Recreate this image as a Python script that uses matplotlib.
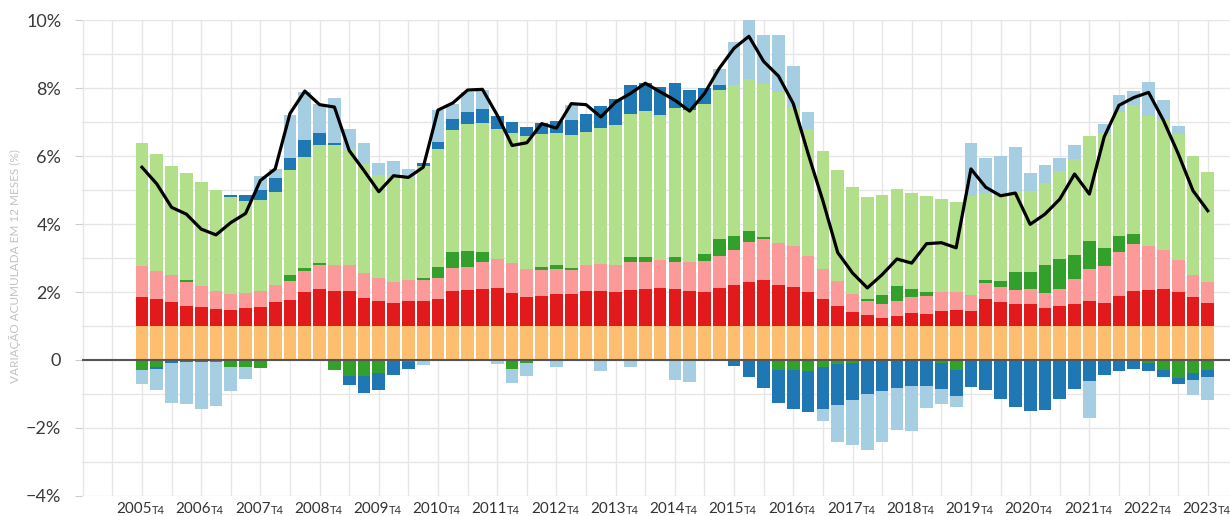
import matplotlib
matplotlib.use("Agg")
import matplotlib.pyplot as plt
import numpy as np

# ---------------- data (quarterly, 2005T4 .. 2023T4) ----------------
years = list(range(2005, 2024))
quarter_suffix = "T4"

orange = [1.0] * 73
red = [.84, .78, .71, .60, .56, .51, .48, .53, .57, .71,
       .77, 1.0, 1.10, 1.04, 1.04, .82, .75, .68, .75, .75,
       .79, 1.02, 1.06, 1.10, 1.12, .97, .85, .89, .95, .94,
       1.04, 1.04, .99, 1.06, 1.09, 1.12, 1.10, 1.04, 1.0, 1.12,
       1.20, 1.29, 1.34, 1.22, 1.16, 1.0, .79, .58, .41, .31,
       .25, .30, .38, .36, .45, .46, .43, .78, .70, .65,
       .66, .53, .58, .65, .75, .67, .89, 1.04, 1.07, 1.10,
       1.0, .84, .68]
pink = [.92, .85, .78, .69, .61, .52, .46, .43, .46, .50,
        .56, .63, .69, .75, .75, .74, .67, .61, .59, .60,
        .61, .69, .69, .77, .84, .87, .84, .76, .73, .70,
        .74, .77, .80, .82, .79, .81, .79, .84, .91, .95,
        1.04, 1.18, 1.22, 1.23, 1.19, 1.06, .88, .74, .54, .44,
        .40, .43, .47, .51, .55, .53, .47, .49, .45, .42,
        .43, .44, .51, .72, .94, 1.09, 1.29, 1.36, 1.28, 1.14,
        .93, .67, .61]
dark_green = [-.28, -.20, 0, .07, 0, -.05, -.20, -.20, -.23, 0,
              .17, .08, .07, -.28, -.46, -.46, -.37, 0, -.05, .07,
              .34, .46, .47, .31, 0, -.27, -.10, .10, .11, .06,
              0, 0, -.04, .15, .15, -.04, .14, 0, .20, .48,
              .42, .33, .07, -.28, -.28, -.33, -.21, -.11, -.08, .04,
              .27, .46, .24, .12, -.08, -.30, 0, .08, .16, .52,
              .50, .82, .87, .72, .81, .54, .47, .30, -.10, -.30,
              -.52, -.39, -.28]
light_green = [3.63, 3.44, 3.22, 3.13, 3.06, 2.97, 2.84, 2.71, 2.69, 2.74,
               3.09, 3.26, 3.45, 3.52, 3.42, 3.21, 3.03, 3.13, 3.02, 3.30,
               3.47, 3.59, 3.71, 3.80, 3.84, 3.85, 3.89, 3.91, 3.89, 3.93,
               3.93, 4.01, 4.11, 4.22, 4.28, 4.29, 4.37, 4.47, 4.43, 4.39,
               4.43, 4.46, 4.48, 4.42, 4.10, 3.74, 3.49, 3.27, 3.13, 3.01,
               2.93, 2.84, 2.81, 2.82, 2.73, 2.67, 2.93, 2.55, 2.52, 2.39,
               2.39, 2.42, 2.61, 2.83, 3.09, 3.38, 3.63, 3.81, 3.83, 3.86,
               3.73, 3.48, 3.25]
dark_blue = [0, -.07, -.10, -.07, -.05, 0, .07, .17, .29, .41,
             .36, .49, .38, .08, -.27, -.51, -.50, -.43, -.20, .07,
             .20, .34, .37, .39, .38, .30, .27, .31, .35, .44,
             .54, .66, .77, .84, .85, .80, .74, .59, .45, .15,
             -.17, -.49, -.81, -.98, -1.15, -1.21, -1.22, -1.21, -1.10, -1.0,
             -.91, -.82, -.77, -.77, -.76, -.77, -.79, -.87, -1.16, -1.38,
             -1.51, -1.46, -1.15, -.84, -.61, -.44, -.32, -.25, -.22, -.19,
             -.20, -.20, -.21]
light_blue = [-.44, -.62, -1.15, -1.21, -1.40, -1.30, -.72, -.37, .41, .26,
              1.27, 1.43, .85, 1.32, .58, .62, .35, .42, .26, -.14,
              .94, .44, .57, .57, -.12, -.42, -.37, 0, -.22, .44,
              0, -.33, 0, -.22, 0, 0, -.60, -.64, 0, .46,
              1.25, 1.73, 1.45, 1.69, 1.21, .48, -.36, -1.10, -1.33, -1.66,
              -1.49, -1.25, -1.32, -.64, -.46, -.31, 1.55, 1.04, 1.16, 1.28,
              .51, .53, .38, .41, -1.09, .27, .51, .41, 1.01, .56,
              .21, -.45, -.69]
total = [5.67, 5.18, 4.49, 4.29, 3.85, 3.68, 4.04, 4.31, 5.28, 5.62,
         7.25, 7.91, 7.51, 7.44, 6.16, 5.57, 4.95, 5.42, 5.37, 5.67,
         7.35, 7.56, 7.94, 7.96, 7.20, 6.31, 6.39, 6.95, 6.82, 7.54,
         7.51, 7.15, 7.59, 7.84, 8.14, 7.89, 7.64, 7.32, 7.84, 8.58,
         9.17, 9.52, 8.78, 8.35, 7.54, 6.07, 4.68, 3.16, 2.56, 2.12,
         2.51, 2.97, 2.85, 3.42, 3.45, 3.30, 5.62, 5.08, 4.83, 4.91,
         3.99, 4.29, 4.73, 5.47, 4.88, 6.56, 7.49, 7.72, 7.87, 7.05,
         6.07, 4.98, 4.39]

series = [orange, red, pink, dark_green, light_green, dark_blue, light_blue]
colors = ["#fdbf6f", "#e31a1c", "#fb9a99", "#33a02c", "#b2df8a", "#1f78b4", "#a6cee3"]

# ---------------- figure ----------------
W, H = 1230, 516
fig = plt.figure(figsize=(W / 100, H / 100), dpi=100)
ax = fig.add_axes([82 / W, 20 / H, 1 - 82 / W, 476 / H])

FONT = ["Lato", "DejaVu Sans"]
n = len(total)
x = np.arange(n)

pos = np.zeros(n)
neg = np.zeros(n)
for vals, c in zip(series, colors):
    v = np.asarray(vals, dtype=float)
    bottom = np.where(v >= 0, pos, neg)
    ax.bar(x, v, bottom=bottom, width=0.86, color=c, linewidth=0, zorder=2)
    pos = pos + np.where(v > 0, v, 0)
    neg = neg + np.where(v < 0, v, 0)

ax.plot(x, total, color="black", lw=2.3, zorder=4, solid_joinstyle="round")
ax.axhline(0, color="#555555", lw=1.5, zorder=3)

ax.set_xlim(-4.05, 73.5)
ax.set_ylim(-4, 10)

# grid
ax.set_yticks(np.arange(-4, 11, 2))
ax.set_yticks(np.arange(-3, 10, 2), minor=True)
ax.set_xticks(np.arange(-4, 73, 2), minor=True)
ax.set_xticks([])
ax.grid(True, which="both", color="#e6e6e6", lw=1.0, zorder=0)
ax.set_axisbelow(True)

ylabels = []
for t in np.arange(-4, 11, 2):
    if t == 0:
        ylabels.append("0")
    elif t < 0:
        ylabels.append("\u2212%d%%" % abs(t))
    else:
        ylabels.append("%d%%" % t)
ax.set_yticklabels(ylabels, fontsize=13, color="#3a3a3a", family=FONT)
ax.tick_params(axis="y", which="major", length=5, color="#cccccc", pad=10)
ax.tick_params(axis="y", which="minor", length=0)
ax.tick_params(axis="x", which="both", length=0)

for s in ax.spines.values():
    s.set_visible(False)

# x labels "2005T4"
for k, yr in enumerate(years):
    xi = 4 * k
    ax.annotate(str(yr), xy=(xi, -4), xycoords="data", xytext=(10, -13),
                textcoords="offset pixels", ha="right", va="center",
                fontsize=11, color="#333333", family=FONT, annotation_clip=False)
    ax.annotate(quarter_suffix, xy=(xi, -4), xycoords="data", xytext=(10, -14),
                textcoords="offset pixels", ha="left", va="center",
                fontsize=8, color="#333333", family=FONT, annotation_clip=False)

fig.text(15 / W, 1 - 266 / H, "VARIAÇÃO ACUMULADA EM 12 MESES (%)", rotation=90,
         ha="center", va="center", fontsize=8.5, color="#c2c2c2", family=FONT)

fig.savefig("out.png", dpi=100)
